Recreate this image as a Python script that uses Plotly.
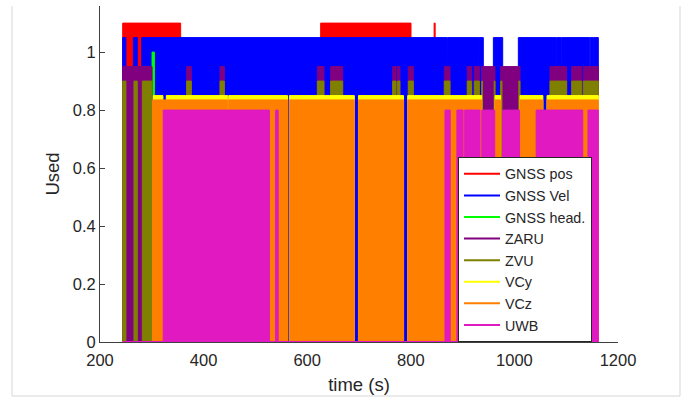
import plotly.graph_objects as go

# ---- data: time span of the log (s)
T_START = 243.8
T_END = 1162.0

series_names = ["GNSS pos", "GNSS Vel", "GNSS head.", "ZARU", "ZVU", "VCy", "VCz", "UWB"]
levels = [1.1, 1.05, 1.0, 0.95, 0.9, 0.85, 0.835, 0.8]
colors = ["#ff0000", "#0000ff", "#00ff00", "#800080", "#808000", "#ffff00", "#ff8000", "#e019c0"]

# "used" intervals (start, end) for each flag
gnss_pos_start = [243.8, 626.0, 845.0]
gnss_pos_end = [355.7, 800.4, 847.0]

gnss_vel_start = [243.8, 264.4, 280.4, 657.2, 662.2, 871.0, 930.6, 959.4, 1007.6, 1082.0, 1091.5, 1146.5, 1153.0]
gnss_vel_end = [250.0, 272.0, 656.5, 661.5, 870.0, 929.8, 940.0, 977.4, 1081.0, 1090.5, 1145.5, 1152.0, 1162.0]

gnss_head_start = [300.5]
gnss_head_end = [305.0]

zaru_start = [243.8, 367.3, 431.7, 619.6, 645.3, 765.0, 774.0, 795.2, 864.7, 909.0, 922.6, 936.8, 973.5, 1068.7, 1110.6, 1133.0]
zaru_end = [300.5, 376.3, 440.0, 632.4, 668.5, 771.4, 779.0, 804.9, 875.7, 917.5, 932.3, 962.6, 1010.8, 1100.9, 1129.9, 1162.0]

zvu_start = [243.8, 265.6, 281.7, 367.3, 431.7, 619.6, 645.3, 765.0, 774.0, 795.2, 864.7, 909.0, 922.6, 936.8, 961.0, 973.5, 1008.5, 1068.7, 1110.6, 1133.0]
zvu_end = [250.0, 272.0, 300.5, 376.3, 440.0, 632.4, 668.5, 771.4, 779.0, 804.9, 875.7, 917.5, 932.3, 938.5, 962.6, 976.0, 1010.8, 1100.9, 1129.9, 1162.0]

vcy_start = [303.0, 328.0, 448.5, 565.5, 699.0, 794.0, 962.6, 1010.8, 1063.0]
vcy_end = [321.5, 446.5, 562.0, 691.0, 786.0, 936.8, 973.5, 1055.0, 1162.0]

vcz_start = [301.5, 448.5, 565.5, 699.0, 794.0, 962.6, 1010.8, 1063.0]
vcz_end = [446.5, 562.0, 691.0, 786.0, 936.8, 973.5, 1055.0, 1162.0]

uwb_start = [322.0, 539.0, 866.0, 889.0, 904.0, 937.0, 977.0, 1042.0, 1142.0]
uwb_end = [527.0, 544.0, 876.0, 901.0, 933.6, 962.0, 1010.0, 1132.0, 1162.0]

starts = [gnss_pos_start, gnss_vel_start, gnss_head_start, zaru_start, zvu_start, vcy_start, vcz_start, uwb_start]
ends = [gnss_pos_end, gnss_vel_end, gnss_head_end, zaru_end, zvu_end, vcy_end, vcz_end, uwb_end]

x_ticks = [200, 400, 600, 800, 1000, 1200]
y_ticks = [0, 0.2, 0.4, 0.6, 0.8, 1]


def flag_path(st, en, lvl):
    xs, ys = [T_START], [0]
    for s, e in zip(st, en):
        xs += [s, s, e, e]
        ys += [0, lvl, lvl, 0]
    xs.append(T_END)
    ys.append(0)
    return xs, ys


fig = go.Figure()
for name, st, en, lvl, col in zip(series_names, starts, ends, levels, colors):
    xs, ys = flag_path(st, en, lvl)
    fig.add_trace(go.Scatter(x=xs, y=ys, mode="lines", fill="tozeroy",
                             fillcolor=col, line=dict(color=col, width=1),
                             showlegend=False, hoverinfo="skip"))
# bottom line of the last drawn flag (UWB) at zero
fig.add_trace(go.Scatter(x=[T_START, T_END], y=[0, 0], mode="lines",
                         line=dict(color=colors[-1], width=2.2),
                         showlegend=False, hoverinfo="skip"))
# legend entries (line samples)
for name, col in zip(series_names, colors):
    fig.add_trace(go.Scatter(x=[None], y=[None], mode="lines", name=name,
                             line=dict(color=col, width=2)))

axis_col = "#404040"
font_family = "Liberation Sans, Arial, sans-serif"

# plot area in pixels: x 100..618, y 6..342
W, H = 686, 400
L, R, T, B = 100, 618, 6, 342


def px_x(p):
    return (p - L) / (R - L)


def px_y(p):
    return (B - p) / (B - T)


frame = "#d6d6d6"
shapes = [
    dict(type="line", xref="paper", yref="paper", x0=px_x(12), x1=px_x(12), y0=px_y(6), y1=px_y(396), line=dict(color=frame, width=1)),
    dict(type="line", xref="paper", yref="paper", x0=px_x(680), x1=px_x(680), y0=px_y(6), y1=px_y(396), line=dict(color=frame, width=1)),
    dict(type="line", xref="paper", yref="paper", x0=px_x(12), x1=px_x(680), y0=px_y(396), y1=px_y(396), line=dict(color=frame, width=1)),
]

fig.update_layout(
    width=W, height=H,
    margin=dict(l=L, r=W - R, t=T, b=H - B, pad=0),
    paper_bgcolor="white", plot_bgcolor="white",
    font=dict(family=font_family, color="#262626", size=16.5),
    shapes=shapes,
    legend=dict(x=px_x(458), y=px_y(157), xanchor="left", yanchor="top",
                bgcolor="white", bordercolor="#262626", borderwidth=1,
                font=dict(size=14.3, color="#262626", family=font_family),
                tracegroupgap=0, itemwidth=36),
    xaxis=dict(range=[200, 1200], tickvals=x_ticks, ticktext=[str(v) for v in x_ticks],
               showgrid=False, zeroline=False, showline=True, linecolor=axis_col, linewidth=1,
               ticks="inside", ticklen=5, tickcolor=axis_col, layer="below traces",
               ticklabelstandoff=3,
               title=dict(text="time (s)", font=dict(size=18.5), standoff=10)),
    yaxis=dict(range=[0, 1.159], tickvals=y_ticks, ticktext=["0", "0.2", "0.4", "0.6", "0.8", "1"],
               showgrid=False, zeroline=False, showline=True, linecolor=axis_col, linewidth=1,
               ticks="inside", ticklen=5, tickcolor=axis_col, layer="below traces",
               title=dict(text="Used", font=dict(size=18.5), standoff=8)),
)

fig.write_html("out.html", config={"displayModeBar": False},
               post_script="document.body.style.margin='0px';")
